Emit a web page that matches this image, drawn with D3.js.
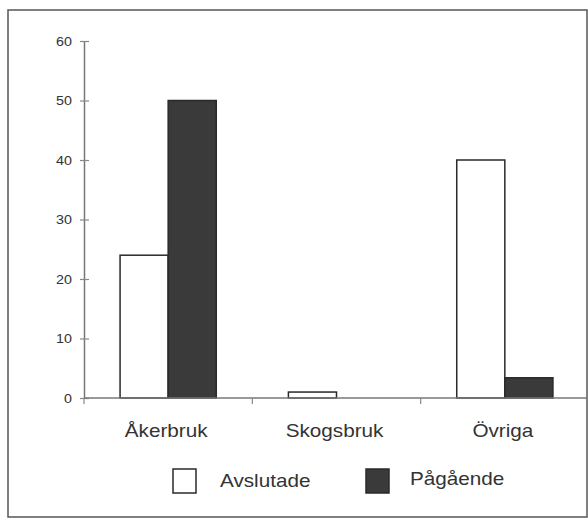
<!DOCTYPE html>
<html>
<head>
<meta charset="utf-8">
<script src="https://cdn.jsdelivr.net/npm/d3@7"></script>
<style>
    body { margin: 0; background: #fff; }
    text { font-family: "Liberation Sans", Arial, sans-serif; fill: #333; }
</style>
</head>
<body>
<script>
// Data
var categories = ["Åkerbruk", "Skogsbruk", "Övriga"];
var series = ["Avslutade", "Pågående"];
var avslutade = [24, 1, 40];
var pagaende = [50, 0, 3.4];
var yTicks = [0, 10, 20, 30, 40, 50, 60];

var fills = { "Avslutade": "#fff", "Pågående": "#3a3a3a" };

var W = 588, H = 521;
var svg = d3.select("body").append("svg")
    .attr("width", W)
    .attr("height", H);

// outer frame
svg.append("rect")
    .attr("x", 8).attr("y", 10)
    .attr("width", 579).attr("height", 507)
    .attr("fill", "none")
    .attr("stroke", "#555")
    .attr("stroke-width", 1.5);

// scales
var x = d3.scaleBand().domain(categories).range([84, 589]).padding(0);
var xInner = d3.scaleBand().domain(series).range([0, x.bandwidth()])
    .paddingInner(0).paddingOuter(0.75);
var y = d3.scaleLinear().domain([0, 60]).range([398, 41]);

var rows = categories.map(function (c, i) {
    return { cat: c, values: [
        { key: "Avslutade", value: avslutade[i] },
        { key: "Pågående", value: pagaende[i] }
    ] };
});

// bars
var groups = svg.selectAll("g.cat")
    .data(rows)
    .enter().append("g")
    .attr("class", "cat")
    .attr("transform", function (d) { return "translate(" + x(d.cat) + ",0)"; });

groups.selectAll("rect")
    .data(function (d) { return d.values.filter(function (v) { return v.value > 0; }); })
    .enter().append("rect")
    .attr("x", function (d) { return xInner(d.key); })
    .attr("y", function (d) { return y(d.value); })
    .attr("width", xInner.bandwidth())
    .attr("height", function (d) { return y(0) - y(d.value); })
    .attr("fill", function (d) { return fills[d.key]; })
    .attr("stroke", "#2a2a2a")
    .attr("stroke-width", 1.5);

// y axis
var yAxis = svg.append("g")
    .attr("transform", "translate(84,0)")
    .call(d3.axisLeft(y).tickValues(yTicks).tickSize(0).tickPadding(11));
yAxis.select(".domain").attr("stroke", "#777").attr("stroke-width", 1.5);
yAxis.selectAll(".tick text")
    .style("font-size", "13px")
    .attr("transform", "scale(1.1,1)")
    .attr("fill", "#333");
yAxis.selectAll(".tick").append("line")
    .attr("x1", -4).attr("x2", 5)
    .attr("stroke", "#888").attr("stroke-width", 1.2);

// x axis
svg.append("line")
    .attr("x1", 84).attr("x2", 589)
    .attr("y1", y(0)).attr("y2", y(0))
    .attr("stroke", "#777").attr("stroke-width", 1.5);
svg.selectAll("line.xtick")
    .data(categories)
    .enter().append("line")
    .attr("class", "xtick")
    .attr("x1", function (d) { return x(d); })
    .attr("x2", function (d) { return x(d); })
    .attr("y1", y(0)).attr("y2", y(0) + 6)
    .attr("stroke", "#888").attr("stroke-width", 1.2);

// category labels
svg.selectAll("text.cat")
    .data(categories)
    .enter().append("text")
    .attr("class", "cat")
    .attr("transform", function (d) {
        return "translate(" + (x(d) + x.bandwidth() / 2 - 2) + ",437) scale(1.15,1)";
    })
    .attr("text-anchor", "middle")
    .style("font-size", "18px")
    .text(function (d) { return d; });

// legend
var legendPos = [{ bx: 173, tx: 220, ty: 487 }, { bx: 366, tx: 410, ty: 485 }];
var legend = svg.selectAll("g.legend")
    .data(series)
    .enter().append("g")
    .attr("class", "legend");

legend.append("rect")
    .attr("x", function (d, i) { return legendPos[i].bx; })
    .attr("y", 469)
    .attr("width", 23)
    .attr("height", 24)
    .attr("fill", function (d) { return fills[d]; })
    .attr("stroke", "#2a2a2a")
    .attr("stroke-width", 1.5);

legend.append("text")
    .attr("transform", function (d, i) {
        return "translate(" + legendPos[i].tx + "," + legendPos[i].ty + ") scale(1.15,1)";
    })
    .style("font-size", "18px")
    .text(function (d) { return d; });
</script>
</body>
</html>
